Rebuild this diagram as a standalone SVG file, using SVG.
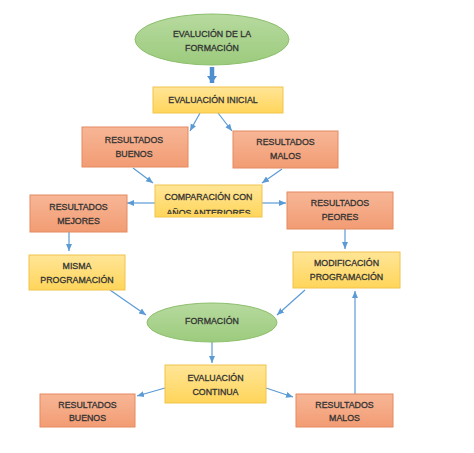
<svg xmlns="http://www.w3.org/2000/svg" width="474" height="453" viewBox="0 0 474 453">
<defs>
<linearGradient id="gOr" x1="0" y1="0" x2="0" y2="1"><stop offset="0" stop-color="#f7b696"/><stop offset="1" stop-color="#f29c73"/></linearGradient>
<linearGradient id="gYe" x1="0" y1="0" x2="0" y2="1"><stop offset="0" stop-color="#ffe597"/><stop offset="1" stop-color="#ffd55a"/></linearGradient>
<linearGradient id="gGr" x1="0" y1="0" x2="0" y2="1"><stop offset="0" stop-color="#b7da9f"/><stop offset="1" stop-color="#9ccb7d"/></linearGradient>
<marker id="ah" markerWidth="8" markerHeight="8" refX="7" refY="4" orient="auto" markerUnits="userSpaceOnUse"><path d="M0,1 L7,4 L0,7 Z" fill="#5b9bd5"/></marker>
<marker id="ahb" markerWidth="12" markerHeight="10" refX="7" refY="5" orient="auto" markerUnits="userSpaceOnUse"><path d="M0,0 L7,5 L0,10 Z" fill="#4f8fcf"/></marker>
<clipPath id="clipComp"><rect x="150" y="185" width="120" height="29"/></clipPath>
</defs>
<style>
.or{fill:url(#gOr);stroke:#e58a60;stroke-width:1}
.ye{fill:url(#gYe);stroke:#f2c44a;stroke-width:1}
.gr{fill:url(#gGr);stroke:#8cbf6c;stroke-width:1}
text{font-family:"Liberation Sans",Arial,sans-serif;font-size:8.8px;fill:#333333;stroke:#333333;stroke-width:0.3;text-anchor:middle}
.c line{stroke:#5b9bd5;stroke-width:1.2;marker-end:url(#ah)}
</style>
<rect width="474" height="453" fill="#ffffff"/>
<g class="c">
<line x1="212" y1="67" x2="212" y2="83" style="stroke:#4f8fcf;stroke-width:4.5;marker-end:url(#ahb)"/>
<line x1="200" y1="113" x2="190" y2="131"/>
<line x1="218" y1="113" x2="232" y2="131"/>
<line x1="133" y1="168" x2="153" y2="183"/>
<line x1="282" y1="169" x2="262" y2="183"/>
<line x1="155" y1="203" x2="127" y2="203"/>
<line x1="262" y1="203" x2="286" y2="203"/>
<line x1="69" y1="232" x2="69" y2="251"/>
<line x1="345" y1="229" x2="345" y2="249"/>
<line x1="110" y1="290" x2="146" y2="315"/>
<line x1="305" y1="290" x2="277" y2="315"/>
<line x1="212" y1="342" x2="212" y2="363"/>
<line x1="165" y1="388" x2="137" y2="396"/>
<line x1="266" y1="388" x2="293" y2="397"/>
<line x1="355" y1="394" x2="355" y2="291"/>
</g>
<g id="n-eval-formacion"><ellipse class="gr" cx="212" cy="39.5" rx="77" ry="25.5"/><text x="212" y="37">EVALUCIÓN DE LA</text><text x="212" y="51">FORMACIÓN</text></g>
<g id="n-eval-inicial"><rect class="ye" x="153" y="87" width="130" height="26"/><text x="213" y="103">EVALUACIÓN INICIAL</text></g>
<g id="n-res-buenos-1"><rect class="or" x="82" y="127" width="106" height="40"/><text x="134" y="143">RESULTADOS</text><text x="134" y="157">BUENOS</text></g>
<g id="n-res-malos-1"><rect class="or" x="233" y="131" width="105" height="37"/><text x="285.5" y="145">RESULTADOS</text><text x="285.5" y="159">MALOS</text></g>
<g id="n-comparacion"><rect class="ye" x="155" y="185" width="107" height="32"/><g clip-path="url(#clipComp)"><text x="208.5" y="200">COMPARACIÓN CON</text><text x="208.5" y="216">AÑOS ANTERIORES</text></g></g>
<g id="n-res-mejores"><rect class="or" x="30" y="195" width="97" height="37"/><text x="78.5" y="210">RESULTADOS</text><text x="78.5" y="224">MEJORES</text></g>
<g id="n-res-peores"><rect class="or" x="287" y="192" width="106" height="37"/><text x="340" y="206">RESULTADOS</text><text x="340" y="220">PEORES</text></g>
<g id="n-misma"><rect class="ye" x="29" y="255" width="96" height="35"/><text x="77" y="269">MISMA</text><text x="77" y="283">PROGRAMACIÓN</text></g>
<g id="n-modificacion"><rect class="ye" x="293" y="252" width="107" height="36"/><text x="346.5" y="266">MODIFICACIÓN</text><text x="346.5" y="280">PROGRAMACIÓN</text></g>
<g id="n-formacion"><ellipse class="gr" cx="212" cy="322.5" rx="65" ry="19.5"/><text x="212" y="324">FORMACIÓN</text></g>
<g id="n-eval-continua"><rect class="ye" x="165" y="365" width="101" height="38"/><text x="215.5" y="381">EVALUACIÓN</text><text x="215.5" y="395">CONTINUA</text></g>
<g id="n-res-buenos-2"><rect class="or" x="40" y="394" width="95" height="33"/><text x="87.5" y="408">RESULTADOS</text><text x="87.5" y="421">BUENOS</text></g>
<g id="n-res-malos-2"><rect class="or" x="296" y="394" width="97" height="33"/><text x="344.5" y="408">RESULTADOS</text><text x="344.5" y="421">MALOS</text></g>
</svg>
